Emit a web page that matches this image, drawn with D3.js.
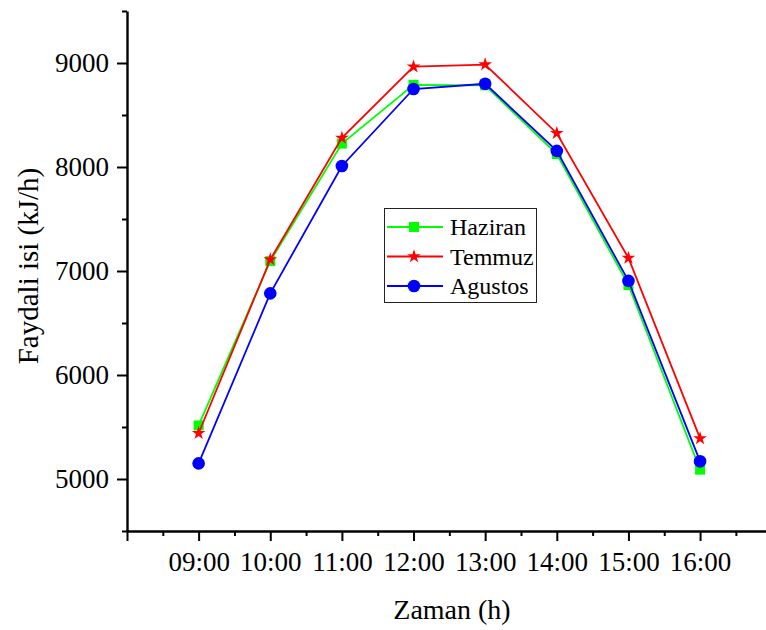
<!DOCTYPE html>
<html>
<head>
<meta charset="utf-8">
<script src="https://cdn.jsdelivr.net/npm/d3@7"></script>
<style>
  html, body { margin: 0; padding: 0; background: #ffffff; }
  svg { display: block; }
</style>
</head>
<body>
<svg id="chart" width="766" height="630"></svg>
<script>
// Hours of the day (x) and useful heat per month (kJ/h)
const hours = [9, 10, 11, 12, 13, 14, 15, 16];
const haziran = [5515, 7095, 8225, 8790, 8785, 8125, 6865, 5090];
const temmuz  = [5440, 7110, 8280, 8965, 8985, 8325, 7125, 5390];
const agustos = [5150, 6785, 8010, 8750, 8800, 8155, 6905, 5170];

const seriesNames = ["Haziran", "Temmuz", "Agustos"];
const seriesColors = ["#00ff00", "#ff0000", "#0000ff"];

const xMajorTicks = [8, 9, 10, 11, 12, 13, 14, 15, 16, 17];
const xLabelled = [9, 10, 11, 12, 13, 14, 15, 16];
const xMinorTicks = [8.5, 9.5, 10.5, 11.5, 12.5, 13.5, 14.5, 15.5, 16.5];
const yMajorTicks = [5000, 6000, 7000, 8000, 9000];
const yMinorTicks = [4500, 5500, 6500, 7500, 8500, 9500];

const xTitle = "Zaman (h)";
const yTitle = "Faydali isi (kJ/h)";

const FONT = "'Liberation Serif'";

const svg = d3.select("#chart");

const x = d3.scaleLinear().domain([8, 17]).range([127, 771.7]);
const y = d3.scaleLinear().domain([4500, 9500]).range([531, 11]);

const fmtHour = h => (h < 10 ? "0" : "") + h + ":00";

function styleAxis(g) {
  g.attr("font-family", null).attr("font-size", null);
  g.selectAll("line").attr("stroke", "#000").attr("stroke-width", 2);
  g.selectAll("text")
    .style("font-family", FONT)
    .style("font-size", "27px")
    .attr("fill", "#000");
}

// ---- X axis ----
const gx = svg.append("g").attr("transform", `translate(0,${y(4500)})`);
gx.call(d3.axisBottom(x).tickValues(xMinorTicks).tickSize(5).tickSizeOuter(0).tickFormat(""));
gx.call(g => g.select(".domain").remove());
const gx2 = svg.append("g").attr("transform", `translate(0,${y(4500)})`);
gx2.call(d3.axisBottom(x).tickValues(xMajorTicks).tickSize(10).tickSizeOuter(0).tickPadding(11)
  .tickFormat(h => xLabelled.includes(h) ? fmtHour(h) : ""));
styleAxis(gx); styleAxis(gx2);
gx2.select(".domain").attr("stroke", "#000").attr("stroke-width", 2.4);

// ---- Y axis ----
const gy = svg.append("g").attr("transform", `translate(${x(8)},0)`);
gy.call(d3.axisLeft(y).tickValues(yMinorTicks).tickSize(5).tickSizeOuter(0).tickFormat(""));
gy.call(g => g.select(".domain").remove());
const gy2 = svg.append("g").attr("transform", `translate(${x(8)},0)`);
gy2.call(d3.axisLeft(y).tickValues(yMajorTicks).tickSize(10).tickSizeOuter(0).tickPadding(8)
  .tickFormat(d3.format("d")));
styleAxis(gy); styleAxis(gy2);
gy2.select(".domain").attr("stroke", "#000").attr("stroke-width", 2.4);

// ---- Axis titles ----
svg.append("text")
  .attr("x", 452).attr("y", 619)
  .attr("text-anchor", "middle")
  .style("font-family", FONT)
  .style("font-size", "28px")
  .text(xTitle);

svg.append("text")
  .attr("transform", `translate(38,266) rotate(-90)`)
  .attr("text-anchor", "middle")
  .style("font-family", FONT)
  .style("font-size", "29px")
  .text(yTitle);

// ---- Series ----
const allSeries = [haziran, temmuz, agustos];
const symbols = [
  d3.symbol().type(d3.symbolSquare).size(100),
  d3.symbol().type(d3.symbolStar).size(58),
  d3.symbol().type(d3.symbolCircle).size(125)
];

const line = d3.line().x(d => x(d[0])).y(d => y(d[1]));

allSeries.forEach((vals, i) => {
  const pts = hours.map((h, j) => [h, vals[j]]);
  const g = svg.append("g");
  g.append("path")
    .attr("d", line(pts))
    .attr("fill", "none")
    .attr("stroke", seriesColors[i])
    .attr("stroke-width", 1.8);
  g.selectAll("path.mk")
    .data(pts)
    .join("path")
    .attr("class", "mk")
    .attr("transform", d => `translate(${x(d[0])},${y(d[1])})`)
    .attr("d", symbols[i]())
    .attr("fill", seriesColors[i]);
});

// ---- Legend ----
const lg = svg.append("g");
lg.append("rect")
  .attr("x", 384.5).attr("y", 208.5)
  .attr("width", 152).attr("height", 94)
  .attr("fill", "#fff")
  .attr("stroke", "#222")
  .attr("stroke-width", 1);
const legendRows = [227, 256.5, 286];
seriesNames.forEach((name, i) => {
  const yy = legendRows[i];
  lg.append("line")
    .attr("x1", 387).attr("x2", 443)
    .attr("y1", yy).attr("y2", yy)
    .attr("stroke", seriesColors[i])
    .attr("stroke-width", 1.8);
  lg.append("path")
    .attr("transform", `translate(414,${yy})`)
    .attr("d", symbols[i]())
    .attr("fill", seriesColors[i]);
  lg.append("text")
    .attr("x", 450).attr("y", yy + 8)
    .style("font-family", FONT)
    .style("font-size", "24px")
    .text(name);
});
</script>
</body>
</html>
